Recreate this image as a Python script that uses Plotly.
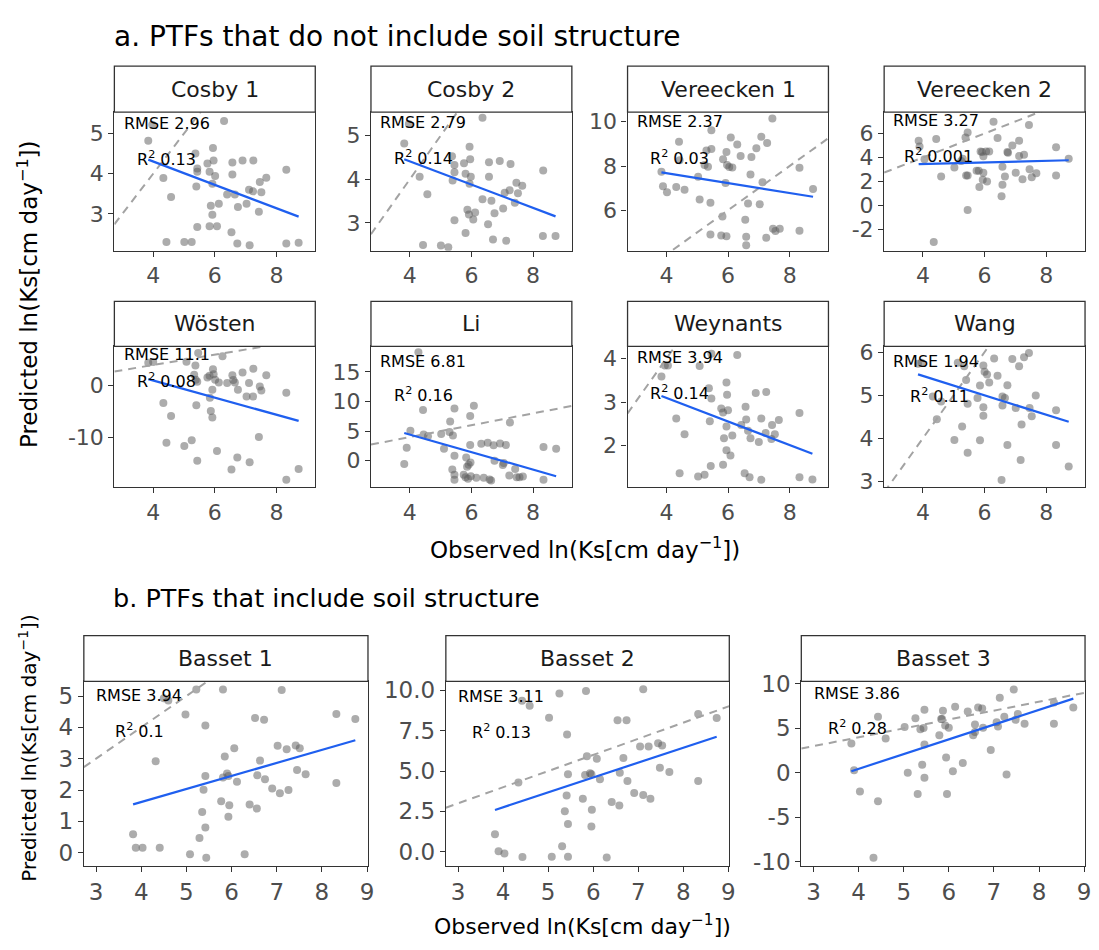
import plotly.graph_objects as go

W, H = 1099, 950
FONT = "DejaVu Sans"

# ---------------- data (observed vs predicted ln Ks) ----------------
panel_names = ["Cosby 1", "Cosby 2", "Vereecken 1", "Vereecken 2",
               "Wösten", "Li", "Weynants", "Wang",
               "Basset 1", "Basset 2", "Basset 3"]

cosby1_obs = [3.84, 4.33, 4.58, 4.43, 5.01, 5.25, 5.37, 5.43, 5.43, 5.40, 5.43, 5.76, 5.83, 5.94, 5.96, 6.01, 5.92, 5.87, 5.92, 5.83, 6.07, 6.13, 6.40, 6.57, 6.57, 6.65, 6.54, 6.75, 6.73, 6.90, 7.03, 7.11, 7.24, 7.25, 7.13, 7.43, 7.46, 7.51, 7.67, 8.32, 8.32, 8.72, 6.30, 3.97]
cosby1_pred = [4.82, 3.89, 3.42, 2.30, 2.30, 2.30, 4.50, 4.13, 4.05, 3.68, 2.67, 4.25, 4.05, 4.64, 4.33, 3.94, 3.75, 3.20, 2.98, 2.69, 2.69, 3.25, 3.48, 4.28, 3.98, 3.48, 2.54, 3.17, 2.26, 4.33, 3.25, 3.60, 3.56, 4.33, 2.22, 3.05, 3.79, 3.54, 3.90, 4.10, 2.26, 2.28, 5.31, 5.22]

cosby2_obs = [3.82, 4.32, 4.57, 4.43, 5.01, 5.25, 5.37, 5.45, 5.45, 5.39, 5.45, 5.76, 5.81, 5.94, 5.96, 5.98, 5.94, 5.87, 5.92, 5.81, 6.06, 6.12, 6.36, 6.57, 6.57, 6.65, 6.54, 6.75, 6.70, 6.92, 7.03, 7.08, 7.24, 7.27, 7.13, 7.41, 7.46, 7.51, 7.65, 8.33, 8.32, 8.73, 6.36, 3.97]
cosby2_pred = [4.82, 4.06, 3.66, 2.49, 2.48, 2.44, 4.53, 4.33, 4.16, 3.97, 3.06, 4.37, 4.13, 4.75, 4.46, 4.06, 3.90, 3.30, 3.19, 2.77, 3.08, 3.24, 3.54, 4.39, 4.06, 3.51, 2.97, 3.22, 2.62, 4.42, 3.33, 3.69, 3.75, 4.35, 2.59, 3.46, 3.92, 3.68, 3.85, 4.20, 2.70, 2.70, 5.41, 5.27]

vereecken1_obs = [3.84, 3.89, 4.02, 4.32, 4.41, 4.43, 4.59, 5.03, 5.08, 5.24, 5.30, 5.35, 5.46, 5.46, 5.43, 5.43, 5.84, 5.82, 5.78, 5.95, 5.95, 5.97, 6.04, 6.14, 5.92, 6.09, 6.30, 6.41, 6.56, 6.59, 6.59, 6.65, 6.73, 6.76, 6.92, 7.08, 7.03, 7.12, 7.24, 7.27, 7.44, 7.46, 7.54, 7.68, 8.32, 8.32, 8.76]
vereecken1_pred = [7.74, 7.08, 6.81, 7.05, 9.10, 8.26, 6.93, 7.52, 6.49, 8.04, 8.70, 7.97, 8.77, 9.62, 6.34, 4.91, 8.30, 5.72, 4.86, 4.83, 8.63, 8.04, 7.96, 7.93, 7.23, 9.29, 8.97, 8.45, 5.57, 4.80, 4.42, 6.31, 7.62, 8.41, 8.80, 9.32, 6.27, 7.27, 4.76, 9.04, 10.15, 5.16, 5.06, 5.16, 7.92, 5.07, 6.96]

vereecken2_obs = [3.86, 3.89, 4.05, 4.35, 4.43, 4.59, 5.02, 5.24, 5.29, 5.38, 5.45, 5.40, 5.45, 5.45, 5.74, 5.81, 5.83, 5.87, 5.92, 5.96, 5.96, 5.94, 6.05, 6.08, 6.15, 6.29, 6.42, 6.58, 6.58, 6.55, 6.66, 6.74, 6.76, 6.90, 7.01, 7.12, 7.12, 7.23, 7.28, 7.44, 7.46, 7.53, 7.68, 8.32, 8.32, 8.73]
vereecken2_pred = [5.40, 4.91, 3.85, -3.03, 5.54, 2.41, 3.17, 3.71, 3.90, 5.67, 6.08, 2.49, 2.49, -0.37, 2.90, 2.90, 1.54, 4.50, 4.45, 4.10, 2.73, 2.14, 4.50, 2.00, 4.50, 6.98, 5.62, 3.22, 1.73, 0.78, 2.41, 4.45, 4.40, 4.99, 2.73, 5.40, 4.12, 2.19, 4.23, 6.71, 3.01, 2.35, 2.68, 4.86, 2.49, 3.90]

wosten_obs = [3.84, 4.00, 4.33, 4.58, 4.43, 5.01, 5.25, 5.08, 5.37, 5.33, 5.38, 5.43, 5.40, 5.43, 5.46, 5.76, 5.83, 5.94, 5.96, 6.01, 5.92, 5.84, 5.87, 5.92, 6.13, 6.07, 6.25, 6.40, 6.57, 6.60, 6.65, 6.75, 6.54, 6.73, 6.90, 7.03, 7.11, 7.24, 7.25, 7.13, 7.43, 7.46, 7.51, 7.67, 8.32, 8.32, 8.72]
wosten_pred = [4.43, 4.56, -3.35, -5.89, -11.08, -11.71, -10.57, 4.62, 3.92, 2.09, 1.14, 0.76, -3.80, -14.56, 6.33, 1.58, 1.90, 3.16, 2.22, 1.14, -0.82, -2.34, -4.94, -6.20, 0.63, -12.66, 5.70, 0.51, 2.03, 1.08, 0.63, -0.82, -16.27, -13.92, 2.53, -2.09, 0.51, -2.09, 3.29, -14.87, -9.94, -0.19, -0.95, 2.03, -1.39, -18.23, -16.14]

li_obs = [4.28, 3.82, 3.90, 4.02, 4.43, 4.45, 4.59, 5.02, 5.11, 5.29, 5.31, 5.40, 5.45, 5.45, 5.38, 5.45, 5.45, 5.75, 5.83, 5.86, 5.91, 5.97, 5.81, 5.89, 5.96, 5.96, 6.08, 5.98, 6.16, 6.32, 6.40, 6.53, 6.59, 6.64, 6.75, 6.72, 6.93, 7.02, 7.05, 7.12, 7.25, 7.23, 7.42, 7.47, 7.56, 7.67, 8.34, 8.75, 8.34]
li_pred = [18.3, -0.55, 2.21, 5.08, 8.56, 4.42, 4.14, 4.53, 2.04, 4.86, 6.63, 4.25, 8.84, 0.83, -1.49, -2.38, -3.20, -2.38, 0.55, -0.99, -0.66, -0.28, -2.76, -3.04, 2.65, 7.57, 9.28, -2.60, -2.87, 2.87, -2.87, 3.04, -3.15, -3.31, 0.00, 2.60, 2.93, -0.72, -0.39, 2.65, 6.46, -2.49, -1.38, -2.76, -2.76, -2.65, 2.32, 2.04, -3.20]

weynants_obs = [3.84, 3.95, 4.05, 4.32, 4.59, 4.43, 5.03, 5.24, 5.08, 5.38, 5.46, 5.41, 5.44, 5.46, 5.78, 5.84, 5.95, 5.97, 6.00, 5.95, 5.87, 5.95, 5.84, 6.08, 6.14, 6.30, 6.43, 6.57, 6.59, 6.65, 6.54, 6.70, 6.73, 6.90, 7.00, 7.08, 7.08, 7.22, 7.24, 7.41, 7.43, 7.52, 7.65, 8.32, 8.32, 8.74]
weynants_pred = [3.59, 3.84, 3.84, 2.62, 2.26, 1.36, 1.29, 1.33, 3.83, 3.32, 3.08, 2.56, 1.53, 4.11, 2.85, 2.76, 3.45, 3.17, 2.81, 2.44, 2.17, 1.89, 1.56, 1.77, 2.23, 4.08, 2.47, 2.89, 2.60, 2.34, 1.36, 1.27, 2.17, 3.21, 2.08, 2.62, 1.21, 2.29, 3.23, 2.15, 2.47, 2.26, 2.59, 2.75, 1.27, 1.22]

wang_obs = [3.84, 3.95, 4.32, 4.45, 4.59, 5.02, 5.13, 5.27, 5.34, 5.40, 5.45, 5.45, 5.77, 5.85, 5.85, 5.96, 6.00, 5.96, 5.96, 6.08, 6.15, 6.31, 6.42, 6.58, 6.58, 6.66, 6.74, 6.74, 6.55, 6.90, 7.01, 7.12, 7.20, 7.17, 7.28, 7.44, 7.46, 7.53, 7.66, 8.32, 8.32, 8.73]
wang_pred = [5.73, 5.75, 4.97, 4.44, 4.85, 3.96, 5.75, 4.27, 5.67, 5.35, 4.80, 3.66, 4.93, 5.22, 3.95, 5.69, 5.54, 4.72, 4.52, 5.48, 5.29, 5.85, 5.45, 4.97, 4.76, 4.93, 5.23, 3.84, 3.03, 5.84, 4.70, 5.67, 4.32, 3.49, 5.88, 5.98, 4.70, 4.51, 4.99, 4.65, 3.84, 3.34]

basset1_obs = [3.82, 3.88, 4.03, 4.32, 4.41, 4.50, 4.60, 4.98, 5.08, 5.22, 5.29, 5.35, 5.38, 5.42, 5.42, 5.42, 5.44, 5.77, 5.81, 5.85, 5.81, 5.90, 5.93, 5.95, 5.93, 6.06, 6.12, 6.29, 6.40, 6.52, 6.56, 6.57, 6.63, 6.72, 6.74, 6.90, 7.02, 7.07, 7.11, 7.22, 7.26, 7.42, 7.45, 7.51, 7.64, 8.32, 8.32, 8.74]
basset1_pred = [0.59, 0.16, 0.16, 2.92, 0.16, 4.93, 4.86, 4.41, -0.05, 5.21, 0.47, 1.30, 2.01, 2.45, 4.06, 0.80, -0.16, 1.64, 5.21, 3.07, 2.40, 2.53, 2.45, 1.51, 1.15, 3.33, 2.26, -0.05, 1.54, 4.30, 1.41, 2.47, 2.94, 4.24, 2.34, 2.05, 3.41, 1.90, 5.19, 3.30, 2.00, 3.42, 2.64, 3.33, 2.50, 4.43, 2.22, 4.27]

basset2_obs = [3.82, 3.90, 4.03, 4.34, 4.42, 4.43, 4.59, 5.02, 5.08, 5.25, 5.31, 5.42, 5.44, 5.41, 5.37, 5.44, 5.44, 5.77, 5.84, 5.86, 5.82, 5.93, 5.96, 5.97, 5.96, 6.08, 6.15, 6.30, 6.41, 6.54, 6.58, 6.59, 6.67, 6.74, 6.76, 6.91, 7.04, 7.11, 7.11, 7.23, 7.27, 7.44, 7.48, 7.53, 7.69, 8.33, 8.33, 8.74]
basset2_pred = [1.09, 0.04, -0.10, 4.29, 9.35, -0.32, 9.05, 8.30, -0.30, 9.80, 0.34, 7.27, 4.80, 3.48, 2.51, 1.72, -0.30, 3.28, 9.96, 5.91, 4.76, 4.86, 4.80, 2.61, 1.56, 5.77, 4.49, -0.36, 3.08, 8.14, 2.87, 4.90, 5.81, 8.14, 4.39, 3.64, 6.52, 10.06, 3.52, 6.52, 3.28, 6.72, 5.20, 6.58, 4.94, 8.54, 4.39, 8.28]

basset3_obs = [3.84, 3.90, 4.03, 4.33, 4.43, 4.43, 4.60, 5.02, 5.09, 5.26, 5.31, 5.37, 5.41, 5.46, 5.46, 5.46, 5.44, 5.79, 5.83, 5.87, 5.85, 5.92, 5.94, 5.96, 6.00, 6.09, 6.14, 6.31, 6.42, 6.54, 6.58, 6.58, 6.65, 6.74, 6.76, 6.93, 7.09, 7.06, 7.13, 7.23, 7.28, 7.44, 7.48, 7.53, 7.68, 8.33, 8.33, 8.76]
basset3_pred = [3.31, 0.29, -2.10, -9.56, 6.32, -3.20, 3.86, 5.15, 0.00, 6.14, -2.39, 4.89, 0.92, 7.10, 3.20, -0.55, 5.04, 4.23, 6.07, 6.99, 6.07, 5.33, 1.73, -2.39, 5.07, 0.18, 7.43, 1.10, 6.91, 4.23, 5.44, 4.60, 7.35, 7.24, 5.07, 2.57, 5.22, 5.70, 8.46, 6.32, -0.18, 9.38, 5.96, 6.62, 5.51, 7.90, 5.51, 7.35]

panel_obs = [cosby1_obs, cosby2_obs, vereecken1_obs, vereecken2_obs, wosten_obs, li_obs,
             weynants_obs, wang_obs, basset1_obs, basset2_obs, basset3_obs]
panel_pred = [cosby1_pred, cosby2_pred, vereecken1_pred, vereecken2_pred, wosten_pred, li_pred,
              weynants_pred, wang_pred, basset1_pred, basset2_pred, basset3_pred]

# fitted linear trend (predicted value at min / max observed)
fit_at_min = [4.35, 4.46, 7.71, 3.44, 1.27, 4.70, 3.14, 5.48, 1.54, 2.59, 0.18]
fit_at_max = [2.93, 3.15, 6.61, 3.77, -6.84, -2.60, 1.81, 4.38, 3.59, 7.13, 8.35]

rmse_vals = ["2.96", "2.79", "2.37", "3.27", "11.1", "6.81", "3.94", "1.94", "3.94", "3.11", "3.86"]
r2_vals = ["0.13", "0.14", "0.03", "0.001", "0.08", "0.16", "0.14", "0.11", "0.1", "0.13", "0.28"]

xticks_a = [4, 6, 8]
xticks_b = [3, 4, 5, 6, 7, 8, 9]
yticks = [[3, 4, 5], [3, 4, 5], [6, 8, 10], [-2, 0, 2, 4, 6], [-10, 0], [0, 5, 10, 15],
          [2, 3, 4], [3, 4, 5, 6], [0, 1, 2, 3, 4, 5], [0, 2.5, 5, 7.5, 10], [-10, -5, 0, 5, 10]]
ytick_text = [None] * 9 + [["0.0", "2.5", "5.0", "7.5", "10.0"], None]

title_a = "a. PTFs that do not include soil structure"
title_b = "b. PTFs that include soil structure"
xlab = "Observed ln(Ks[cm day<sup>−1</sup>])"
ylab = "Predicted ln(Ks[cm day<sup>−1</sup>])"

# ---------------- layout geometry (pixels) ----------------
col_a = [(115, 317), (373, 575), (631, 833), (889, 1091)]
col_b = [(84.3, 370), (448.3, 733.3), (805.7, 1091)]
rows_a = [(57.3, 104.3, 245.7), (297.3, 343.3, 487.0)]   # strip top, plot top, plot bottom
row_b = (638.3, 685.0, 873.3)

xrange_a = [2.74, 9.26]
xrange_b = [2.73, 9.02]
yranges = [[2.08, 5.53], [2.36, 5.54], [4.17, 10.43], [-3.77, 7.77], [-19.7, 7.6], [-4.47, 19.3],
           [1.04, 4.28], [2.86, 6.13], [-0.42, 5.47], [-0.87, 10.56], [-10.47, 10.3]]

rmse_pos = [(0.26, 0.917), (0.26, 0.924), (0.26, 0.93), (0.26, 0.94), (0.26, 0.94), (0.26, 0.896),
            (0.26, 0.92), (0.26, 0.896), (0.195, 0.924), (0.193, 0.917), (0.198, 0.933)]
r2_pos = [(0.26, 0.665), (0.26, 0.67), (0.26, 0.67), (0.27, 0.69), (0.26, 0.756), (0.26, 0.66),
          (0.26, 0.675), (0.275, 0.652), (0.195, 0.734), (0.195, 0.729), (0.198, 0.747)]

BORDER = "#333333"
TICKC = "#4D4D4D"
PT_COLOR = "rgba(90,90,90,0.5)"
LINE_BLUE = "#1F5FEF"
DASH_GREY = "#A3A3A3"


def fmt(v):
    return f"{v:g}"  # plain hyphen-minus, as in the reference


def px2x(p):
    return p / W


def px2y(p):
    return 1 - p / H


fig = go.Figure()
shapes = []
annotations = []

for i, name in enumerate(panel_names):
    n = i + 1
    xa = "x" if n == 1 else f"x{n}"
    ya = "y" if n == 1 else f"y{n}"
    if i < 8:
        c0, c1 = col_a[i % 4]
        s_top, p_top, p_bot = rows_a[i // 4]
        xr = xrange_a
        xt = xticks_a
        tfs = 22
    else:
        c0, c1 = col_b[i - 8]
        s_top, p_top, p_bot = row_b
        xr = xrange_b
        xt = xticks_b
        tfs = 23

    obs = panel_obs[i]
    pred = panel_pred[i]
    assert len(obs) == len(pred)

    fig.add_trace(go.Scatter(x=obs, y=pred, mode="markers", xaxis=xa, yaxis=ya,
                             marker=dict(size=8, color=PT_COLOR, line=dict(width=0)),
                             showlegend=False, hoverinfo="skip"))
    fig.add_trace(go.Scatter(x=xr, y=xr, mode="lines", xaxis=xa, yaxis=ya,
                             line=dict(color=DASH_GREY, width=2, dash="8px,6px"),
                             showlegend=False, hoverinfo="skip"))
    fig.add_trace(go.Scatter(x=[min(obs), max(obs)], y=[fit_at_min[i], fit_at_max[i]],
                             mode="lines", xaxis=xa, yaxis=ya,
                             line=dict(color=LINE_BLUE, width=2.2),
                             showlegend=False, hoverinfo="skip"))

    axis_common = dict(showline=True, mirror=True, linecolor=BORDER, linewidth=1.3,
                       ticks="outside", ticklen=5, tickwidth=1.3, tickcolor=BORDER,
                       tickfont=dict(family=FONT, size=tfs, color=TICKC),
                       showgrid=False, zeroline=False, fixedrange=True)
    xkey = "xaxis" if n == 1 else f"xaxis{n}"
    ykey = "yaxis" if n == 1 else f"yaxis{n}"
    fig.layout[xkey] = dict(domain=[px2x(c0), px2x(c1)], anchor=ya, range=xr,
                            tickvals=xt, ticktext=[fmt(v) for v in xt], **axis_common)
    ytxt = ytick_text[i] if ytick_text[i] is not None else [fmt(v) for v in yticks[i]]
    fig.layout[ykey] = dict(domain=[px2y(p_bot), px2y(p_top)], anchor=xa, range=yranges[i],
                            tickvals=yticks[i], ticktext=ytxt, **axis_common)

    # strip
    shapes.append(dict(type="rect", xref="paper", yref="paper",
                       x0=px2x(c0), x1=px2x(c1), y0=px2y(p_top), y1=px2y(s_top),
                       line=dict(color=BORDER, width=1.3), fillcolor="white", layer="above"))
    annotations.append(dict(text=name, xref="paper", yref="paper",
                            x=px2x((c0 + c1) / 2), y=px2y((s_top + p_top) / 2),
                            xanchor="center", yanchor="middle", showarrow=False,
                            font=dict(family=FONT, size=22, color="#1A1A1A")))
    # stats
    annotations.append(dict(text=f"RMSE {rmse_vals[i]}", xref=f"{xa} domain", yref=f"{ya} domain",
                            x=rmse_pos[i][0], y=rmse_pos[i][1], xanchor="center", yanchor="middle",
                            showarrow=False, font=dict(family=FONT, size=16, color="black")))
    annotations.append(dict(text=f"R<sup>2</sup> {r2_vals[i]}", xref=f"{xa} domain", yref=f"{ya} domain",
                            x=r2_pos[i][0], y=r2_pos[i][1], xanchor="center", yanchor="middle",
                            showarrow=False, font=dict(family=FONT, size=16, color="black")))

# section titles and axis titles
annotations += [
    dict(text=title_a, xref="paper", yref="paper", x=px2x(113), y=px2y(27),
         xanchor="left", yanchor="middle", showarrow=False,
         font=dict(family=FONT, size=28, color="black")),
    dict(text=title_b, xref="paper", yref="paper", x=px2x(112), y=px2y(600),
         xanchor="left", yanchor="middle", showarrow=False,
         font=dict(family=FONT, size=25.5, color="black")),
    dict(text=xlab, xref="paper", yref="paper", x=px2x(588), y=px2y(549),
         xanchor="center", yanchor="middle", showarrow=False,
         font=dict(family=FONT, size=23, color="black")),
    dict(text=xlab, xref="paper", yref="paper", x=px2x(586), y=px2y(934),
         xanchor="center", yanchor="middle", showarrow=False,
         font=dict(family=FONT, size=22, color="black")),
    dict(text=ylab, xref="paper", yref="paper", x=px2x(28), y=px2y(290),
         xanchor="center", yanchor="middle", showarrow=False, textangle=-90,
         font=dict(family=FONT, size=23, color="black")),
    dict(text=ylab, xref="paper", yref="paper", x=px2x(28), y=px2y(753),
         xanchor="center", yanchor="middle", showarrow=False, textangle=-90,
         font=dict(family=FONT, size=20, color="black")),
]

fig.update_layout(width=W, height=H, margin=dict(l=0, r=0, t=0, b=0),
                  paper_bgcolor="white", plot_bgcolor="white",
                  shapes=shapes, annotations=annotations, showlegend=False,
                  font=dict(family=FONT))

fig.write_html("out.html", config={"displayModeBar": False},
               post_script="document.body.style.margin='0';")
